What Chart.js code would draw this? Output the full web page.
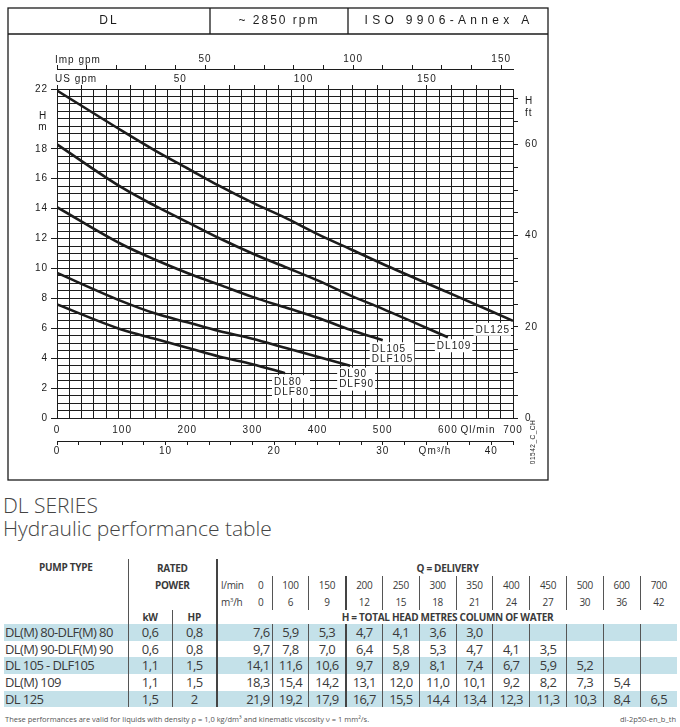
<!DOCTYPE html>
<html>
<head>
<meta charset="utf-8">
<script src="https://cdn.jsdelivr.net/npm/chart.js@4.4.1/dist/chart.umd.min.js"></script>
<style>
  body { margin: 0; background: #fff; }
  #page { position: relative; width: 680px; height: 727px; overflow: hidden; }
  #chartBox { position: absolute; left: 0; top: 0; width: 680px; height: 485px; }
  #title { position: absolute; left: 3px; top: 494px; font: 300 21px "Open Sans", sans-serif; color: #444; line-height: 23px; white-space: nowrap; }
  #perf { position: absolute; left: 4px; top: 559px; width: 673px; border-collapse: collapse; table-layout: fixed;
          font-family: "Open Sans", sans-serif; color: #3a3a3a; }
  #perf td { padding: 0; white-space: nowrap; overflow: hidden; }
  #perf tr.h td { font-size: 10px; line-height: 12px; text-align: center; height: 17px; letter-spacing: -0.3px; }
  #perf tr.h td.b { font-weight: bold; }
  #perf tr.h4 td { height: 14px; }
  #perf tr.d td { font-size: 13px; line-height: 15px; height: 16.7px; text-align: center; letter-spacing: -0.6px; border-right: 1px solid #555; }
  #perf tr.d.blue td { background: #c4e1e9; }
  #perf tr.d td.name { text-align: left; padding-left: 1px; }
  #perf tr.d td.first { text-align: right; padding-right: 2px; }
  #perf .sep { border-right: 1px solid #555; }
  #perf .thick { border-right: 2px solid #444 !important; }
  #perf td.last { border-right: none !important; }
  #foot { position: absolute; left: 5px; top: 714px; font: 7.5px "Open Sans", sans-serif; color: #555; }
  #code { position: absolute; right: 4px; top: 714px; font: 7.5px "Open Sans", sans-serif; color: #555; }
</style>
</head>
<body>
<div id="page">
  <div id="chartBox"><canvas id="curves"></canvas></div>
  <div id="title">DL SERIES<br>Hydraulic performance table</div>
  <table id="perf"></table>
  <div id="foot">These performances are valid for liquids with density ρ = 1,0 kg/dm³ and kinematic viscosity ν = 1 mm²/s.</div>
  <div id="code">dl-2p50-en_b_th</div>
</div>
<script>
// delivery points of the table
const flowLmin = [0, 100, 150, 200, 250, 300, 350, 400, 450, 500, 600, 700];
const flowM3h = [0, 6, 9, 12, 15, 18, 21, 24, 27, 30, 36, 42];

// head (m) per pump
const headDL80 = [7.6, 5.9, 5.3, 4.7, 4.1, 3.6, 3.0];
const headDL90 = [9.7, 7.8, 7.0, 6.4, 5.8, 5.3, 4.7, 4.1, 3.5];
const headDL105 = [14.1, 11.6, 10.6, 9.7, 8.9, 8.1, 7.4, 6.7, 5.9, 5.2];
const headDL109 = [18.3, 15.4, 14.2, 13.1, 12.0, 11.0, 10.1, 9.2, 8.2, 7.3, 5.4];
const headDL125 = [21.9, 19.2, 17.9, 16.7, 15.5, 14.4, 13.4, 12.3, 11.3, 10.3, 8.4, 6.5];

const pumpNames = ['DL(M) 80-DLF(M) 80', 'DL(M) 90-DLF(M) 90', 'DL 105  - DLF105', 'DL(M) 109', 'DL 125'];
const powerKw = ['0,6', '0,6', '1,1', '1,1', '1,5'];
const powerHp = ['0,8', '0,8', '1,5', '1,5', '2'];
const curveLabels = [['DL80', 'DLF80'], ['DL90', 'DLF90'], ['DL105', 'DLF105'], ['DL109'], ['DL125']];

// unit conversions for the extra axes
const LMIN_PER_USGPM = 3.785;
const LMIN_PER_IMPGPM = 4.546;
const M_PER_FT = 0.3048;
const Q_MAX = 700;
const H_MAX = 22;
const H_UNIT_AT = 20;   // the "H m" caption sits where the 20 label would be

const heads = [headDL80, headDL90, headDL105, headDL109, headDL125];
const INK = '#1c1c1c';
const NONE = 'rgba(0,0,0,0)';

// ---------- table ----------
function buildTable() {
    const t = document.getElementById('perf');
    let html = '<colgroup><col style="width:124px"><col style="width:44px"><col style="width:45px">' +
        '<col style="width:33px"><col style="width:22px">';
    for (let i = 1; i < flowLmin.length; i++) html += '<col style="width:36.8px">';
    html += '</colgroup>';

    const n = flowLmin.length + 1;
    html += '<tr class="h"><td class="b sep" rowspan="4" style="vertical-align:top;padding-top:2px">PUMP TYPE</td>' +
        '<td class="b thick" colspan="2">RATED</td><td class="b" colspan="' + n + '">Q = DELIVERY</td></tr>';

    html += '<tr class="h"><td class="b thick" colspan="2">POWER</td><td style="text-align:left;padding-left:3px">l/min</td>';
    flowLmin.forEach((q, i) => {
        const cls = i === flowLmin.length - 1 ? 'last' : (q === 150 ? 'thick' : 'sep');
        html += '<td class="' + cls + '">' + q + '</td>';
    });
    html += '</tr>';

    html += '<tr class="h"><td class="thick" colspan="2"></td><td style="text-align:left;padding-left:3px">m<sup style="font-size:6px;line-height:0">3</sup>/h</td>';
    flowM3h.forEach((q, i) => {
        const cls = i === flowM3h.length - 1 ? 'last' : (flowLmin[i] === 150 ? 'thick' : 'sep');
        html += '<td class="' + cls + '">' + q + '</td>';
    });
    html += '</tr>';

    html += '<tr class="h h4"><td class="b sep">kW</td><td class="b thick">HP</td>' +
        '<td class="b" colspan="' + n + '">H = TOTAL HEAD METRES COLUMN OF WATER</td></tr>';

    pumpNames.forEach((name, r) => {
        html += '<tr class="d' + (r % 2 === 0 ? ' blue' : '') + '"><td class="name">' + name + '</td>' +
            '<td>' + powerKw[r] + '</td><td class="thick">' + powerHp[r] + '</td>';
        flowLmin.forEach((q, i) => {
            const v = heads[r][i];
            const txt = v === undefined ? '' : v.toFixed(1).replace('.', ',');
            let cls = i === flowLmin.length - 1 ? 'last' : (q === 150 ? 'thick' : '');
            if (i === 0) html += '<td class="first" colspan="2">' + txt + '</td>';
            else html += '<td class="' + cls + '">' + txt + '</td>';
        });
        html += '</tr>';
    });
    t.innerHTML = html;
}
buildTable();

// ---------- chart decorations ----------
const sheetPlugin = {
    id: 'sheet',
    beforeUpdate(chart) { chart.ctx.letterSpacing = '1px'; },
    afterDatasetsDraw(chart) {
        const { ctx, scales } = chart;
        ctx.save();
        ctx.font = '10px "Liberation Sans"';
        ctx.letterSpacing = '1px';
        ctx.textBaseline = 'middle';
        chart.data.datasets.forEach((ds, i) => {
            const last = ds.data[ds.data.length - 1];
            const px = scales.x.getPixelForValue(last.x);
            const py = scales.y.getPixelForValue(last.y);
            const lines = curveLabels[i];
            const w = Math.max(...lines.map(s => ctx.measureText(s).width));
            const left = i === curveLabels.length - 1 ? px - 3 - w : px - 11;
            const top = py + 2;
            ctx.fillStyle = '#fff';
            ctx.fillRect(left - 2, top, w + 3, lines.length * 10 + 3);
            ctx.fillStyle = INK;
            lines.forEach((s, k) => ctx.fillText(s, left, top + 7 + k * 10));
        });
        ctx.restore();
    },
    afterDraw(chart) {
        const { ctx, chartArea } = chart;
        ctx.save();
        ctx.strokeStyle = INK;
        ctx.lineWidth = 1.3;
        ctx.strokeRect(8, 8, 540, 472);
        ctx.beginPath();
        ctx.moveTo(8, 34); ctx.lineTo(548, 34);
        ctx.moveTo(210, 8); ctx.lineTo(210, 34);
        ctx.moveTo(348, 8); ctx.lineTo(348, 34);
        ctx.stroke();

        ctx.fillStyle = INK;
        ctx.textBaseline = 'middle';
        ctx.textAlign = 'center';
        ctx.font = '12px "Liberation Sans"';
        ctx.letterSpacing = '2px';
        ctx.fillText('DL', 109, 21);
        ctx.letterSpacing = '2px';
        ctx.fillText('~ 2850 rpm', 279, 21);
        ctx.letterSpacing = '4.3px';
        ctx.fillText('ISO 9906-Annex A', 449, 21);

        ctx.font = '10px "Liberation Sans"';
        ctx.letterSpacing = '1px';
        ctx.textAlign = 'left';
        ctx.fillText('Imp gpm', chartArea.left - 2, 60);
        ctx.fillText('US gpm', chartArea.left - 2, 79);
        ctx.textAlign = 'center';
        ctx.fillText('H', 43, 116);
        ctx.fillText('m', 43, 127);
        ctx.textAlign = 'left';
        ctx.fillText('H', chartArea.right + 12, 101);
        ctx.fillText('ft', chartArea.right + 12, 113);
        ctx.textAlign = 'center';
        ctx.fillText('Ql/min', 478, 430);
        ctx.fillText('Qm³/h', 435, 451);

        ctx.font = '6.5px "Liberation Sans"';
        ctx.letterSpacing = '0.5px';
        ctx.translate(533, 442);
        ctx.rotate(-Math.PI / 2);
        ctx.fillText('01542_C_CH', 0, 0);
        ctx.restore();
    }
};

const tickFont = { family: '"Liberation Sans"', size: 10 };
const flat = { autoSkip: false, maxRotation: 0, minRotation: 0, font: tickFont, color: INK };
const labelledM = v => v % 2 === 0 && v !== H_UNIT_AT;

new Chart(document.getElementById('curves'), {
    type: 'line',
    data: {
        datasets: heads.map((h, i) => ({
            label: curveLabels[i][0],
            data: h.map((v, k) => ({ x: flowLmin[k], y: v })),
            borderColor: INK,
            borderWidth: 2.6,
            pointRadius: 0,
            cubicInterpolationMode: 'monotone',
            xAxisID: 'x',
            yAxisID: 'y'
        }))
    },
    options: {
        responsive: true,
        maintainAspectRatio: false,
        animation: false,
        layout: { padding: { left: 10, right: 137, top: 50, bottom: 24 } },
        plugins: { legend: { display: false }, tooltip: { enabled: false } },
        scales: {
            x: {
                type: 'linear', position: 'bottom', weight: 0,
                min: 0, max: Q_MAX,
                ticks: { ...flat, stepSize: 100, padding: 6 },
                grid: { display: false, drawTicks: false },
                border: { display: false },
                afterFit: s => { s.height = 23; }
            },
            m3h: {
                type: 'linear', position: 'bottom', weight: 1,
                min: 0, max: Q_MAX * 60 / 1000,
                ticks: { ...flat, stepSize: 2, padding: 0, callback: v => v % 10 === 0 ? v : '' },
                grid: { drawOnChartArea: false, tickLength: 4, tickColor: INK },
                border: { display: true, color: INK, width: 1 },
                afterFit: s => { s.height = 20; }
            },
            usgpm: {
                type: 'linear', position: 'top', weight: 0,
                min: 0, max: Q_MAX / LMIN_PER_USGPM,
                ticks: { ...flat, stepSize: 5, includeBounds: false, padding: 0,
                         callback: v => (v > 0 && v % 50 === 0) ? v : '' },
                grid: { color: INK, lineWidth: 1, tickLength: 4,
                        tickColor: c => c.tick && c.tick.value % 10 === 0 ? INK : NONE },
                border: { display: false },
                afterFit: s => { s.height = 20; }
            },
            impgpm: {
                type: 'linear', position: 'top', weight: 1,
                min: 0, max: Q_MAX / LMIN_PER_IMPGPM,
                ticks: { ...flat, stepSize: 10, includeBounds: false, padding: 0,
                         callback: v => (v > 0 && v % 50 === 0) ? v : '' },
                grid: { drawOnChartArea: false, tickLength: 4, tickColor: INK },
                border: { display: true, color: INK, width: 1 },
                afterFit: s => { s.height = 19; }
            },
            y: {
                type: 'linear', position: 'left',
                min: 0, max: H_MAX,
                ticks: { ...flat, stepSize: 0.5, padding: 3, callback: v => labelledM(v) ? v : '' },
                grid: { color: INK, lineWidth: 1, tickLength: 6,
                        tickColor: c => c.tick && labelledM(c.tick.value) ? INK : NONE },
                border: { display: true, color: INK, width: 1 },
                afterFit: s => { s.width = 47; }
            },
            ft: {
                type: 'linear', position: 'right',
                min: 0, max: H_MAX / M_PER_FT,
                ticks: { ...flat, stepSize: 5, includeBounds: false, padding: 7,
                         callback: v => v % 20 === 0 ? v : '' },
                grid: { drawOnChartArea: false, tickLength: 5, tickColor: INK },
                border: { display: true, color: INK, width: 1 },
                afterFit: s => { s.width = 30; }
            }
        }
    },
    plugins: [sheetPlugin]
});
</script>
</body>
</html>
